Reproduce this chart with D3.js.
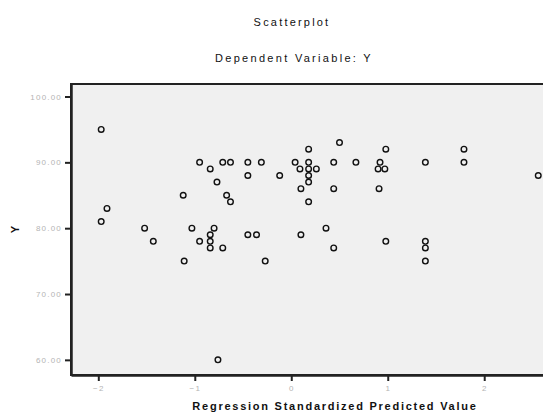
<!DOCTYPE html>
<html>
<head>
<meta charset="utf-8">
<script src="https://cdn.jsdelivr.net/npm/d3@7"></script>
<style>
  html, body { margin: 0; padding: 0; background: #fff; }
  svg { display: block; font-family: "Liberation Sans", Arial, sans-serif; }
</style>
</head>
<body>
<div id="chart"></div>
<script>
const W = 543, H = 412;

// Regression standardized predicted value (x) and Y
const predX = [
  -1.97, -1.91, -1.97, -1.52, -1.43, -1.12, -1.11, -1.03, -0.95, -0.95,
  -0.84, -0.84, -0.84, -0.84, -0.80, -0.77, -0.76, -0.71, -0.71, -0.67,
  -0.63, -0.63, -0.45, -0.45, -0.45, -0.36, -0.31, -0.27, -0.12, 0.04,
  0.09, 0.10, 0.10, 0.18, 0.18, 0.18, 0.18, 0.18, 0.18, 0.26,
  0.36, 0.44, 0.44, 0.44, 0.50, 0.67, 0.92, 0.90, 0.97, 0.98,
  0.91, 0.98, 1.39, 1.39, 1.39, 1.39, 1.79, 1.79, 2.56
];
const yVals = [
  95, 83, 81, 80, 78, 85, 75, 80, 90, 78,
  89, 79, 78, 77, 80, 87, 60, 90, 77, 85,
  90, 84, 90, 88, 79, 79, 90, 75, 88, 90,
  89, 86, 79, 92, 90, 89, 88, 87, 84, 89,
  80, 90, 86, 77, 93, 90, 90, 89, 89, 92,
  86, 78, 90, 78, 77, 75, 92, 90, 88
];

const xTicks = [-2, -1, 0, 1, 2];
const yTicks = [60, 70, 80, 90, 100];

const titleText = "Scatterplot";
const subtitleText = "Dependent Variable: Y";
const xLabel = "Regression Standardized Predicted Value";
const yLabel = "Y";

const plot = { left: 71, top: 84, right: 545, bottom: 375 };

const x = d3.scaleLinear().domain([-2.283, 2.63]).range([plot.left, plot.right]);
const y = d3.scaleLinear().domain([57.7, 101.9]).range([plot.bottom, plot.top]);

const svg = d3.select("#chart").append("svg")
  .attr("width", W)
  .attr("height", H);

// plot background + frame
svg.append("rect")
  .attr("x", plot.left)
  .attr("y", plot.top)
  .attr("width", plot.right - plot.left)
  .attr("height", plot.bottom - plot.top)
  .attr("fill", "#f0f0f0")
  .attr("stroke", "#222")
  .attr("stroke-width", 2);

// titles
svg.append("text")
  .attr("x", 292).attr("y", 26)
  .attr("text-anchor", "middle")
  .attr("font-size", 11)
  .attr("letter-spacing", 2.2)
  .attr("fill", "#111")
  .text(titleText);

svg.append("text")
  .attr("x", 294).attr("y", 62)
  .attr("text-anchor", "middle")
  .attr("font-size", 11)
  .attr("letter-spacing", 2.3)
  .attr("fill", "#111")
  .text(subtitleText);

// axes
const xAxis = svg.append("g")
  .attr("transform", `translate(0,${plot.bottom})`)
  .call(d3.axisBottom(x).tickValues(xTicks).tickSize(6).tickSizeOuter(0).tickFormat(d3.format("d")));

const yAxis = svg.append("g")
  .attr("transform", `translate(${plot.left},0)`)
  .call(d3.axisLeft(y).tickValues(yTicks).tickSize(6).tickSizeOuter(0).tickFormat(d3.format(".2f")));

[xAxis, yAxis].forEach((g) => {
  g.select(".domain").attr("stroke", "#222").attr("stroke-width", 2.5);
  g.selectAll(".tick line").attr("stroke", "#222").attr("stroke-width", 2);
  g.selectAll(".tick text")
    .attr("fill", "#b4b4b4")
    .attr("font-size", 8)
    .attr("letter-spacing", 1.2)
    .attr("font-family", "'Liberation Sans', Arial, sans-serif");
});
xAxis.selectAll(".tick text").attr("dy", "0.9em");
yAxis.selectAll(".tick text").attr("x", -9);

// axis labels
svg.append("text")
  .attr("x", 335).attr("y", 410)
  .attr("text-anchor", "middle")
  .attr("font-size", 11)
  .attr("font-weight", "bold")
  .attr("letter-spacing", 1.75)
  .attr("fill", "#111")
  .text(xLabel);

svg.append("text")
  .attr("transform", `translate(19,${(plot.top + plot.bottom) / 2}) rotate(-90)`)
  .attr("text-anchor", "middle")
  .attr("font-size", 11)
  .attr("font-weight", "bold")
  .attr("fill", "#111")
  .text(yLabel);

// points
svg.append("g")
  .selectAll("circle")
  .data(predX.map((v, i) => [v, yVals[i]]))
  .join("circle")
  .attr("cx", (d) => x(d[0]))
  .attr("cy", (d) => y(d[1]))
  .attr("r", 2.8)
  .attr("fill", "none")
  .attr("stroke", "#111")
  .attr("stroke-width", 1.4);
</script>
</body>
</html>
